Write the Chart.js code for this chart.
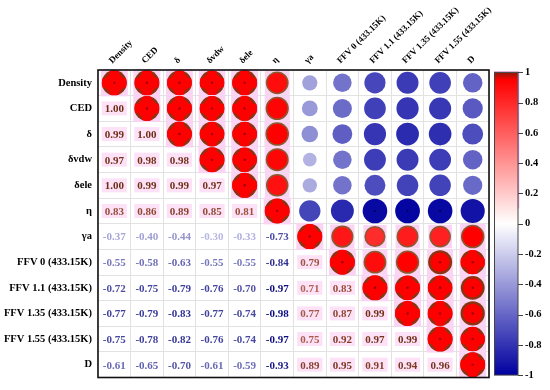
<!DOCTYPE html>
<html>
<head>
<meta charset="utf-8">
<script src="https://cdn.jsdelivr.net/npm/chart.js@4.4.1/dist/chart.umd.min.js"></script>
<style>
  html, body { margin: 0; padding: 0; background: #fff; }
  #wrap { width: 550px; height: 390px; }
</style>
</head>
<body>
<div id="wrap"><canvas id="chart" width="550" height="390"></canvas></div>
<script>
const variables = ['Density', 'CED', 'δ', 'δvdw', 'δele', 'η', 'γa',
  'FFV 0 (433.15K)', 'FFV 1.1 (433.15K)', 'FFV 1.35 (433.15K)', 'FFV 1.55 (433.15K)', 'D'];

// lower triangle of the correlation matrix, one row per variable
const rowDensity = [];
const rowCED = [1.00];
const rowDelta = [0.99, 1.00];
const rowDeltaVdw = [0.97, 0.98, 0.98];
const rowDeltaEle = [1.00, 0.99, 0.99, 0.97];
const rowEta = [0.83, 0.86, 0.89, 0.85, 0.81];
const rowGammaA = [-0.37, -0.40, -0.44, -0.30, -0.33, -0.73];
const rowFFV0 = [-0.55, -0.58, -0.63, -0.55, -0.55, -0.84, 0.79];
const rowFFV11 = [-0.72, -0.75, -0.79, -0.76, -0.70, -0.97, 0.71, 0.83];
const rowFFV135 = [-0.77, -0.79, -0.83, -0.77, -0.74, -0.98, 0.77, 0.87, 0.99];
const rowFFV155 = [-0.75, -0.78, -0.82, -0.76, -0.74, -0.97, 0.75, 0.92, 0.97, 0.99];
const rowD = [-0.61, -0.65, -0.70, -0.61, -0.59, -0.93, 0.89, 0.95, 0.91, 0.94, 0.96];

const colorbarTicks = [1, 0.8, 0.6, 0.4, 0.2, 0, -0.2, -0.4, -0.6, -0.8, -1];

const lowerRows = [rowDensity, rowCED, rowDelta, rowDeltaVdw, rowDeltaEle, rowEta,
  rowGammaA, rowFFV0, rowFFV11, rowFFV135, rowFFV155, rowD];

const corr = (i, j) => (i === j ? 1 : i > j ? lowerRows[i][j] : lowerRows[j][i]);

const mix = (a, b, t) => a.map((c, k) => Math.round(c + (b[k] - c) * Math.max(0, Math.min(1, t))));
const rgb = c => `rgb(${c[0]},${c[1]},${c[2]})`;
const WHITE = [255, 255, 255], RED = [255, 0, 0], DARKRED = [140, 25, 10], BLUE = [0, 0, 160];

const cmap = v => {
  if (v >= 0) return v <= 0.95 ? mix(WHITE, RED, v / 0.95) : mix(RED, DARKRED, (v - 0.95) / 0.05);
  return mix(WHITE, BLUE, -v);
};
const textColor = v => (v >= 0 ? mix([180, 100, 85], [110, 45, 20], (v - 0.7) / 0.3) : mix([195, 195, 232], [15, 15, 130], (-v - 0.25) / 0.72));

const circles = [], numbers = [];
variables.forEach((rowName, i) => {
  variables.forEach((colName, j) => {
    const v = corr(i, j);
    if (j >= i) circles.push({ x: colName, y: rowName, r: 12.5 * Math.sqrt(Math.abs(v)), v });
    else numbers.push({ x: colName, y: rowName, r: 0, v });
  });
});

const serif = '"Liberation Serif", "Times New Roman", serif';

const decor = {
  id: 'decor',
  beforeDatasetsDraw(chart) {
    const ctx = chart.ctx;
    ctx.save();
    chart.getDatasetMeta(0).data.forEach((el, k) => {
      const d = circles[k];
      if (d.v <= 0) return;
      const r = d.r + 1;
      ctx.fillStyle = '#fbd3f3';
      ctx.fillRect(el.x - r, el.y - r, 2 * r, 2 * r);
    });
    ctx.font = `bold 11px ${serif}`;
    chart.getDatasetMeta(1).data.forEach((el, k) => {
      const d = numbers[k];
      if (d.v <= 0) return;
      const w = ctx.measureText(d.v.toFixed(2)).width + 6;
      ctx.fillStyle = '#fde2f7';
      ctx.fillRect(el.x - w / 2, el.y - 7, w, 14);
    });
    ctx.restore();
  },
  afterDatasetsDraw(chart) {
    const ctx = chart.ctx;
    ctx.save();
    chart.getDatasetMeta(0).data.forEach((el, k) => {
      const d = circles[k];
      const r = d.r;
      if (d.v > 0) {
        ctx.beginPath();
        ctx.arc(el.x, el.y, r, 0, Math.PI * 2);
        ctx.fillStyle = d.v >= 0.9 ? '#8a3412' : '#8a5a30';
        ctx.fill();
        const inner = d.v >= 0.9 ? r * 0.8 : r - 1.5;
        ctx.beginPath();
        ctx.arc(el.x, el.y, inner, 0, Math.PI * 2);
        ctx.fillStyle = rgb(d.v >= 0.9 ? RED : mix(WHITE, RED, d.v / 0.95 + 0.08));
        ctx.fill();
        if (d.v >= 0.95) {
          ctx.save();
          ctx.beginPath();
          ctx.arc(el.x, el.y, r, 0, Math.PI * 2);
          ctx.clip();
          ctx.fillStyle = '#ff0000';
          ctx.fillRect(el.x - r * 0.38, el.y - r, r * 0.76, r * 2);
          ctx.fillRect(el.x - r, el.y - r * 0.38, r * 2, r * 0.76);
          ctx.restore();
        }
        if (d.v >= 0.9) {
          ctx.beginPath();
          ctx.arc(el.x, el.y, 1.2, 0, Math.PI * 2);
          ctx.fillStyle = '#a00010';
          ctx.fill();
        }
      } else if (d.v <= -0.95) {
        ctx.beginPath();
        ctx.arc(el.x, el.y, 1, 0, Math.PI * 2);
        ctx.fillStyle = '#000040';
        ctx.fill();
      }
    });
    ctx.font = `bold 11px ${serif}`;
    ctx.textAlign = 'center';
    ctx.textBaseline = 'middle';
    chart.getDatasetMeta(1).data.forEach((el, k) => {
      const d = numbers[k];
      ctx.fillStyle = rgb(textColor(d.v));
      ctx.fillText(d.v.toFixed(2), el.x, el.y + 1);
    });
    ctx.restore();
  },
  afterDraw(chart) {
    const ctx = chart.ctx;
    const a = chart.chartArea;
    const cb = chart.scales.cb;
    ctx.save();
    ctx.strokeStyle = '#111';
    ctx.lineWidth = 1.6;
    ctx.strokeRect(a.left, a.top, a.right - a.left, a.bottom - a.top);

    const x0 = a.right + 5, x1 = a.right + 29;
    const yTop = cb.getPixelForValue(1), yBot = cb.getPixelForValue(-1);
    const g = ctx.createLinearGradient(0, yTop, 0, yBot);
    for (let s = 0; s <= 40; s++) {
      const v = 1 - s / 20;
      g.addColorStop(s / 40, rgb(cmap(v)));
    }
    ctx.fillStyle = g;
    ctx.fillRect(x0, yTop, x1 - x0, yBot - yTop);
    ctx.strokeStyle = '#f3a6e6';
    ctx.lineWidth = 1.5;
    ctx.beginPath();
    ctx.moveTo(x0, yTop - 0.5);
    ctx.lineTo(x1 + 0.5, yTop - 0.5);
    ctx.lineTo(x1 + 0.5, cb.getPixelForValue(0.1));
    ctx.stroke();
    ctx.strokeStyle = '#444';
    ctx.lineWidth = 1;
    ctx.strokeRect(x0 + 0.5, yTop, x1 - x0 - 0.5, yBot - yTop);
    ctx.beginPath();
    colorbarTicks.forEach(v => {
      const y = Math.round(cb.getPixelForValue(v)) + 0.5;
      ctx.moveTo(x1, y);
      ctx.lineTo(x1 + 5, y);
    });
    ctx.stroke();
    ctx.restore();
  }
};

new Chart(document.getElementById('chart'), {
  type: 'bubble',
  data: {
    datasets: [
      {
        data: circles,
        backgroundColor: ctx => (ctx.raw && ctx.raw.v < 0 ? rgb(cmap(ctx.raw.v)) : 'rgba(0,0,0,0)'),
        borderWidth: 0
      },
      {
        data: numbers,
        backgroundColor: 'rgba(0,0,0,0)',
        borderWidth: 0
      }
    ]
  },
  options: {
    responsive: false,
    animation: false,
    events: [],
    layout: { padding: { top: 0, left: 0, right: 0, bottom: 7 } },
    plugins: { legend: { display: false }, tooltip: { enabled: false } },
    scales: {
      x: {
        type: 'category',
        labels: variables,
        position: 'top',
        offset: true,
        grid: { offset: true, color: '#e2e2e2', drawTicks: false },
        border: { display: false },
        ticks: {
          color: '#000',
          font: { family: serif, size: 9, weight: 'bold' },
          minRotation: 45,
          maxRotation: 45,
          padding: 4,
          labelOffset: 4,
          autoSkip: false
        },
        afterFit: s => { s.height = 70; s.paddingLeft = 0; s.paddingRight = 0; }
      },
      y: {
        type: 'category',
        labels: variables,
        offset: true,
        grid: { offset: true, color: '#e2e2e2', drawTicks: false },
        border: { display: false },
        ticks: {
          color: '#000',
          font: { family: serif, size: 10.5, weight: 'bold' },
          padding: 6,
          autoSkip: false
        },
        afterFit: s => { s.width = 98; s.paddingTop = 0; s.paddingBottom = 0; }
      },
      cb: {
        type: 'linear',
        position: 'right',
        min: -1.016,
        max: 1.016,
        grid: { display: false, drawTicks: false },
        border: { display: false },
        afterBuildTicks: s => { s.ticks = colorbarTicks.map(v => ({ value: v })); },
        ticks: {
          color: '#000',
          padding: 36,
          font: { family: serif, size: 10.5, weight: 'bold' },
          callback: v => String(+v.toFixed(1))
        },
        afterFit: s => { s.width = 61; s.paddingTop = 0; s.paddingBottom = 0; }
      }
    }
  },
  plugins: [decor]
});
</script>
</body>
</html>
